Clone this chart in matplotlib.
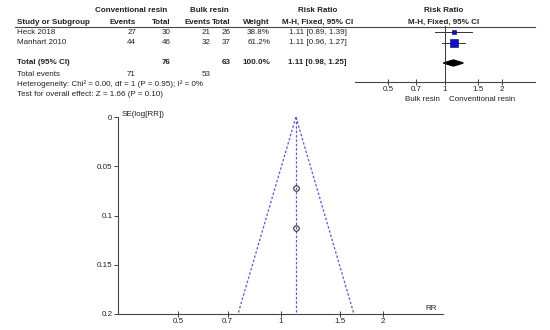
import matplotlib.pyplot as plt
import numpy as np

plt.rcParams['font.family'] = ['Liberation Sans', 'DejaVu Sans']

# Study data
studies = ['Heck 2018', 'Manhart 2010']
conv_events = [27, 44]
conv_total = [30, 46]
bulk_events = [21, 32]
bulk_total = [26, 37]
weights = [38.8, 61.2]
rr = [1.11, 1.11]
ci_low = [0.89, 0.96]
ci_high = [1.39, 1.27]
se_log_rr = [0.113, 0.072]

# Pooled
pooled_rr = 1.11
pooled_ci = (0.98, 1.25)
sum_conv_total, sum_bulk_total = 76, 63
sum_conv_events, sum_bulk_events = 71, 53
het_text = 'Heterogeneity: Chi\u00b2 = 0.00, df = 1 (P = 0.95); I\u00b2 = 0%'
effect_text = 'Test for overall effect: Z = 1.66 (P = 0.10)'

rr_ticks = [0.5, 0.7, 1, 1.5, 2]
rr_ticklabels = ['0.5', '0.7', '1', '1.5', '2']
se_ticks = [0, 0.05, 0.1, 0.15, 0.2]
se_ticklabels = ['0', '0.05', '0.1', '0.15', '0.2']

W, H = 550, 330
fig = plt.figure(figsize=(W / 100, H / 100), dpi=100)
fs = 5.8
tc = '#222222'


def txt(x, y, s, ha='left', bold=False, **kw):
    fig.text(x / W, 1 - y / H, s, ha=ha, va='center', fontsize=fs, color=tc,
             fontweight='bold' if bold else 'normal', **kw)


# header
txt(131, 11, 'Conventional resin', ha='center', bold=True)
txt(209, 11, 'Bulk resin', ha='center', bold=True)
txt(318, 11, 'Risk Ratio', ha='center', bold=True)
txt(444, 11, 'Risk Ratio', ha='center', bold=True)
txt(17, 22, 'Study or Subgroup', bold=True)
txt(136, 22, 'Events', ha='right', bold=True)
txt(171, 22, 'Total', ha='right', bold=True)
txt(211, 22, 'Events', ha='right', bold=True)
txt(231, 22, 'Total', ha='right', bold=True)
txt(270, 22, 'Weight', ha='right', bold=True)
txt(318, 22, 'M-H, Fixed, 95% CI', ha='center', bold=True)
txt(444, 22, 'M-H, Fixed, 95% CI', ha='center', bold=True)
fig.add_artist(plt.Line2D([15 / W, 535 / W], [1 - 26.5 / H, 1 - 26.5 / H],
                          color='#444444', lw=0.8))

row_y = [32, 43]
for i, name in enumerate(studies):
    y = row_y[i]
    txt(17, y, name)
    txt(136, y, str(conv_events[i]), ha='right')
    txt(171, y, str(conv_total[i]), ha='right')
    txt(211, y, str(bulk_events[i]), ha='right')
    txt(231, y, str(bulk_total[i]), ha='right')
    txt(270, y, '%.1f%%' % weights[i], ha='right')
    txt(347, y, '%.2f [%.2f, %.2f]' % (rr[i], ci_low[i], ci_high[i]), ha='right')

txt(17, 63, 'Total (95% CI)', bold=True)
txt(171, 63, str(sum_conv_total), ha='right', bold=True)
txt(231, 63, str(sum_bulk_total), ha='right', bold=True)
txt(270, 63, '100.0%', ha='right', bold=True)
txt(347, 63, '%.2f [%.2f, %.2f]' % (pooled_rr, pooled_ci[0], pooled_ci[1]),
    ha='right', bold=True)
txt(17, 74, 'Total events')
txt(136, 74, str(sum_conv_events), ha='right')
txt(211, 74, str(sum_bulk_events), ha='right')
txt(17, 84, het_text)
txt(17, 94, effect_text)

# forest plot
axf = fig.add_axes([355 / W, 1 - 82 / H, 180 / W, 56 / H])
axf.set_xscale('log')
axf.set_xlim(1 / 3, 3)
axf.set_ylim(82, 26)
for i in range(len(studies)):
    axf.plot([ci_low[i], ci_high[i]], [row_y[i], row_y[i]], color='#333333', lw=0.7)
    axf.plot(rr[i], row_y[i], 's', color='#1010c0', mec='#000070', mew=0.4,
             ms=weights[i] * 0.09)
d = [pooled_ci[0], pooled_rr, pooled_ci[1], pooled_rr]
axf.fill(d, [63, 60, 63, 66], color='black')
axf.axvline(1, color='#333333', lw=0.7)
for s in ['top', 'right', 'left']:
    axf.spines[s].set_visible(False)
axf.spines['bottom'].set_color('#444444')
axf.spines['bottom'].set_linewidth(0.8)
axf.set_yticks([])
axf.set_xticks(rr_ticks)
axf.set_xticklabels(rr_ticklabels)
axf.xaxis.set_minor_locator(plt.NullLocator())
axf.tick_params(axis='x', direction='inout', length=4, width=0.7,
                labelsize=fs, pad=1, colors='#444444', labelcolor=tc)
txt(422, 99, 'Bulk resin', ha='center')
txt(482, 99, 'Conventional resin', ha='center')

# funnel plot
ax = fig.add_axes([118 / W, 1 - 314 / H, 325 / W, 197 / H])
ax.set_xscale('log')
ax.set_xlim(1 / 3, 3)
ax.set_ylim(0.2, 0)
se_line = np.array([0, 0.2])
fc = '#5a5ac8'
ax.plot(pooled_rr * np.exp(-1.96 * se_line), se_line, ls=(0, (2, 1.5)), color=fc, lw=0.9)
ax.plot(pooled_rr * np.exp(1.96 * se_line), se_line, ls=(0, (2, 1.5)), color=fc, lw=0.9)
ax.plot([pooled_rr, pooled_rr], se_line, ls=(0, (2, 1.5)), color=fc, lw=0.9)
ax.plot(rr, se_log_rr, 'o', mfc='none', mec='#333333', mew=0.8, ms=4)
for s in ['top', 'right']:
    ax.spines[s].set_visible(False)
for s in ['left', 'bottom']:
    ax.spines[s].set_color('#444444')
    ax.spines[s].set_linewidth(0.8)
ax.set_xticks(rr_ticks)
ax.set_xticklabels(rr_ticklabels)
ax.xaxis.set_minor_locator(plt.NullLocator())
ax.set_yticks(se_ticks)
ax.set_yticklabels(se_ticklabels)
ax.tick_params(axis='x', direction='inout', length=4, width=0.7,
               labelsize=fs, pad=1, colors='#444444', labelcolor=tc)
ax.tick_params(axis='y', direction='out', length=3, width=0.7,
               labelsize=fs, pad=1, colors='#444444', labelcolor=tc)
txt(122, 114, 'SE(log[RR])')
txt(437, 308, 'RR', ha='right')

fig.savefig('out.png', dpi=100)
